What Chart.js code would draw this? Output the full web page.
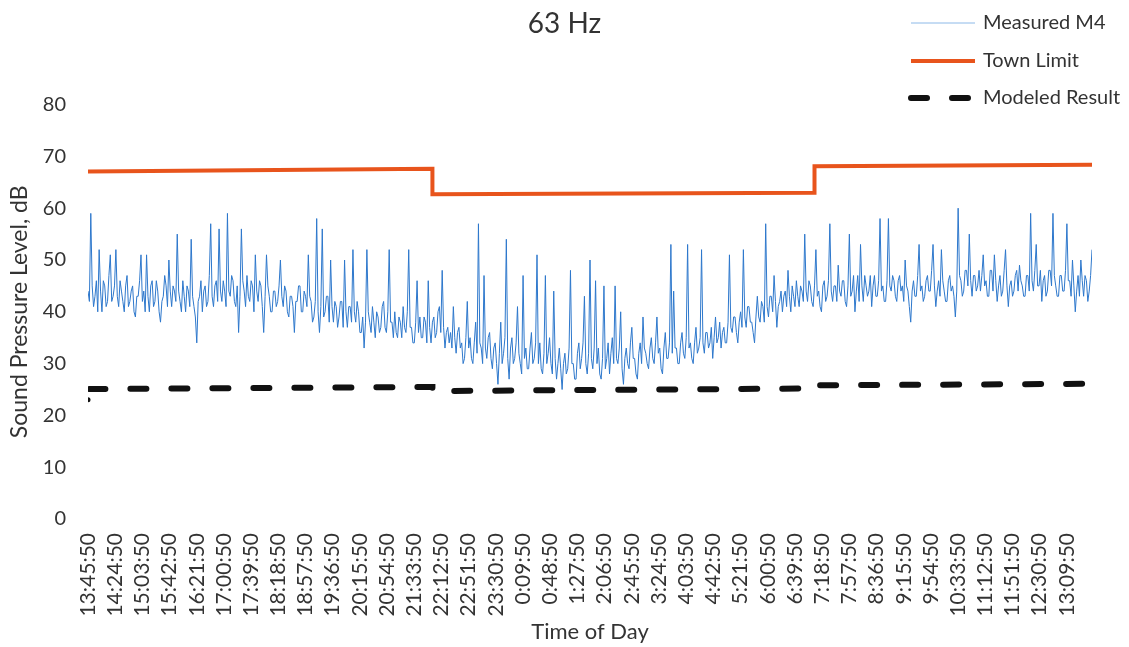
<!DOCTYPE html>
<html>
<head>
<meta charset="utf-8">
<script src="https://cdn.jsdelivr.net/npm/chart.js@4.4.0/dist/chart.umd.min.js"></script>
<style>
html, body { margin: 0; padding: 0; background: #fff; }
</style>
</head>
<body>
<canvas id="chart63" width="1129" height="647"></canvas>
<script>
// x tick labels, one every 39 minutes from the start of the log
const tickLabels = [
  '13:45:50', '14:24:50', '15:03:50', '15:42:50', '16:21:50', '17:00:50', '17:39:50',
  '18:18:50', '18:57:50', '19:36:50', '20:15:50', '20:54:50', '21:33:50', '22:12:50',
  '22:51:50', '23:30:50', '0:09:50', '0:48:50', '1:27:50', '2:06:50', '2:45:50',
  '3:24:50', '4:03:50', '4:42:50', '5:21:50', '6:00:50', '6:39:50', '7:18:50',
  '7:57:50', '8:36:50', '9:15:50', '9:54:50', '10:33:50', '11:12:50', '11:51:50',
  '12:30:50', '13:09:50'
];
const tickStepMin = 39;

// measured M4, one reading every 2 minutes, 40 min per row
const measuredStepMin = 2;
const measuredM4 = [
  44,42, 59,45, 41,43, 46,40, 52,44, 40,46, 45,41, 42,47, 51,42, 43,45,
  52,43, 41,46, 44,42, 40,45, 47,41, 42,44, 45,40, 39,43, 43,46, 51,42,
  44,40, 51,43, 40,45, 46,41, 42,46, 44,40, 38,42, 43,47, 45,41, 50,44,
  41,45, 44,42, 55,44, 42,40, 46,43, 40,45, 44,41, 54,43, 41,39, 34,42,
  43,46, 40,44, 45,41, 42,47, 57,43, 41,45, 46,42, 56,44, 42,46, 44,41,
  59,44, 43,47, 46,42, 41,45, 36,43, 56,46, 44,41, 47,43, 42,46, 45,40,
  51,44, 42,46, 45,41, 36,43, 51,45, 43,40, 40,44, 44,41, 42,45, 50,43,
  41,45, 44,40, 39,43, 43,41, 36,42, 42,45, 45,40, 40,44, 43,41, 51,43,
  42,38, 39,42, 58,40, 36,41, 56,39, 40,43, 43,38, 50,41, 38,42, 41,37,
  39,42, 42,37, 50,40, 37,41, 41,38, 52,40, 38,42, 40,36, 36,39, 33,38,
  52,40, 38,36, 41,38, 35,40, 39,36, 37,41, 42,37, 36,40, 52,38, 38,35,
  40,36, 35,39, 38,35, 41,37, 36,40, 52,37, 37,34, 34,38, 46,36, 39,35,
  35,39, 38,34, 46,37, 34,38, 39,35, 36,40, 41,36, 48,37, 33,36, 37,34,
  36,33, 41,35, 32,36, 37,33, 34,30, 31,35, 42,33, 35,31, 30,34, 38,32,
  57,34, 33,30, 47,33, 31,35, 36,31, 29,33, 34,30, 26,32, 38,30, 32,35,
  54,31, 27,33, 35,30, 31,34, 41,32, 30,28, 47,31, 33,29, 29,33, 36,30,
  31,34, 51,30, 34,29, 28,32, 47,30, 32,35, 30,28, 44,31, 27,30, 33,29,
  25,30, 32,28, 29,33, 48,30, 30,27, 27,32, 34,29, 31,34, 43,30, 28,32,
  50,31, 29,33, 46,30, 33,28, 27,31, 45,29, 31,34, 28,32, 35,30, 45,31,
  30,33, 40,29, 26,31, 33,30, 29,34, 37,31, 31,28, 27,32, 34,30, 39,33,
  32,30, 29,33, 35,31, 30,34, 39,32, 33,29, 28,33, 36,31, 31,34, 53,32,
  44,33, 33,30, 30,34, 36,32, 31,35, 53,33, 34,31, 30,34, 37,32, 33,35,
  52,34, 32,36, 36,33, 34,37, 31,35, 39,34, 35,38, 33,36, 37,34, 34,38,
  51,37, 36,39, 39,36, 34,38, 40,37, 52,39, 37,41, 41,38, 38,36, 34,39,
  43,39, 38,42, 41,38, 57,41, 39,43, 43,40, 47,42, 37,41, 42,44, 40,43,
  44,41, 48,43, 40,45, 43,41, 46,43, 41,45, 44,42, 55,44, 42,46, 45,42,
  41,45, 52,43, 44,41, 40,45, 46,42, 43,46, 57,44, 42,45, 45,42, 49,44,
  43,46, 46,42, 41,45, 55,43, 44,47, 40,44, 47,42, 53,45, 42,47, 45,43,
  44,47, 41,45, 47,43, 43,46, 58,44, 45,42, 42,46, 58,45, 44,47, 46,43,
  42,46, 47,44, 45,42, 50,45, 44,41, 38,44, 46,43, 43,47, 53,44, 45,42,
  43,46, 47,44, 44,48, 53,45, 41,44, 46,43, 52,46, 44,42, 42,46, 47,44,
  45,43, 39,44, 60,47, 46,43, 44,48, 48,45, 55,46, 43,47, 47,44, 45,48,
  44,47, 51,45, 46,43, 43,48, 48,44, 51,46, 42,45, 47,43, 44,48, 52,45,
  41,45, 46,43, 44,47, 48,44, 49,46, 45,43, 43,47, 47,44, 59,46, 44,48,
  53,45, 45,48, 42,46, 47,43, 44,48, 48,45, 59,47, 45,43, 43,47, 47,44,
  44,48, 57,46, 46,43, 50,45, 40,44, 47,43, 50,46, 43,47, 46,42, 44,47,
  52
];

// town limit (minutes from start, dB)
const limitMinutes = [0, 494, 494, 1042, 1042, 1440];
const limitDb = [67.1, 67.6, 62.7, 63.0, 68.1, 68.4];

// modeled result (minutes from start, dB)
const modeledMinutes = [0, 2, 494, 494, 1042, 1042, 1440];
const modeledDb = [23, 25.1, 25.5, 24.7, 25.2, 25.8, 26.1];

const FONT = 'Lato, "Open Sans", sans-serif';
const TEXT = '#333333';

function pairs(xs, ys) {
  return xs.map((x, i) => ({ x: x, y: ys[i] }));
}

// legend stacked in the top right corner, above the plot
const sideLegend = {
  id: 'sideLegend',
  afterDraw(chart) {
    const ctx = chart.ctx;
    const rows = [23, 61, 98];
    chart.data.datasets.forEach((ds, i) => {
      const y = rows[i];
      ctx.save();
      ctx.strokeStyle = ds.legendColor || ds.borderColor;
      ctx.lineWidth = ds.borderWidth;
      ctx.setLineDash(ds.borderDash || []);
      ctx.lineCap = ds.borderCapStyle || 'butt';
      ctx.beginPath();
      ctx.moveTo(911, y);
      ctx.lineTo(975, y);
      ctx.stroke();
      ctx.setLineDash([]);
      ctx.fillStyle = TEXT;
      ctx.font = '20px ' + FONT;
      ctx.textBaseline = 'middle';
      ctx.fillText(ds.label, 983, y);
      ctx.restore();
    });
  }
};

new Chart(document.getElementById('chart63'), {
  type: 'line',
  data: {
    datasets: [
      {
        label: 'Measured M4',
        data: measuredM4.map((v, i) => ({ x: i * measuredStepMin, y: v })),
        borderColor: 'rgb(46, 120, 204)',
        legendColor: 'rgb(140, 185, 232)',
        borderWidth: 1,
        pointRadius: 0,
        order: 3
      },
      {
        label: 'Town Limit',
        data: pairs(limitMinutes, limitDb),
        borderColor: 'rgb(232, 84, 28)',
        borderWidth: 4,
        pointRadius: 0,
        order: 2
      },
      {
        label: 'Modeled Result',
        data: pairs(modeledMinutes, modeledDb),
        borderColor: '#111111',
        borderWidth: 6,
        borderDash: [16, 25],
        borderCapStyle: 'round',
        pointRadius: ctx => ctx.dataIndex === 0 ? 2.5 : 0,
        pointBackgroundColor: '#111111',
        pointBorderWidth: 0,
        segment: {
          borderColor: ctx => ctx.p0DataIndex === 0 ? 'rgba(0,0,0,0)' : '#111111'
        },
        order: 1
      }
    ]
  },
  options: {
    responsive: false,
    animation: false,
    devicePixelRatio: 1,
    plugins: {
      legend: { display: false },
      tooltip: { enabled: false },
      title: {
        display: true,
        text: '63 Hz',
        color: TEXT,
        font: { family: FONT, size: 28, weight: 'normal' },
        padding: { top: 7, bottom: 64 }
      }
    },
    scales: {
      x: {
        type: 'linear',
        min: 0,
        max: 1440,
        afterBuildTicks: s => {
          s.ticks = tickLabels.map((t, i) => ({ value: i * tickStepMin }));
        },
        afterFit: s => { s.height = 128; },
        ticks: {
          autoSkip: false,
          maxRotation: 90,
          minRotation: 90,
          padding: 14,
          color: TEXT,
          font: { family: FONT, size: 21 },
          callback: (v, i) => tickLabels[i]
        },
        grid: { display: false, drawTicks: false },
        border: { display: false },
        title: {
          display: true,
          text: 'Time of Day',
          color: TEXT,
          font: { family: FONT, size: 22 },
          padding: { top: 0, bottom: 2 }
        }
      },
      y: {
        min: 0,
        max: 80,
        afterFit: s => { s.width = 88; },
        ticks: {
          stepSize: 10,
          padding: 22,
          color: TEXT,
          font: { family: FONT, size: 20 }
        },
        grid: { display: false, drawTicks: false },
        border: { display: false },
        title: {
          display: true,
          text: 'Sound Pressure Level, dB',
          color: TEXT,
          font: { family: FONT, size: 23 },
          padding: { top: 6, bottom: 0 }
        }
      },
      // empty right-hand strip so the plot stops where the reference's does
      yPad: {
        position: 'right',
        display: true,
        afterFit: s => { s.width = 37; },
        ticks: { display: false },
        grid: { display: false, drawTicks: false },
        border: { display: false }
      }
    }
  },
  plugins: [sideLegend]
});
</script>
</body>
</html>
